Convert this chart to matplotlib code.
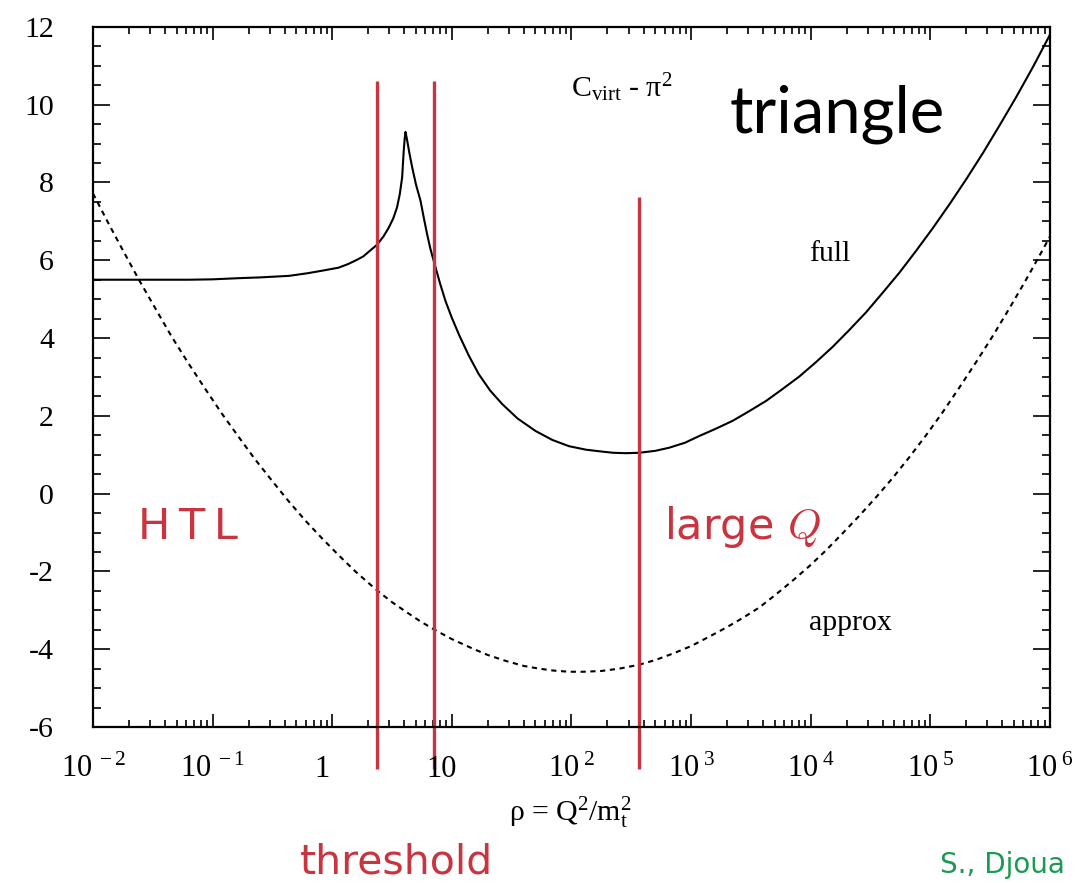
import numpy as np
import matplotlib.pyplot as plt
import matplotlib.transforms as mtransforms
from matplotlib.ticker import LogLocator, MultipleLocator, NullFormatter

plt.rcParams['font.family'] = 'Liberation Serif'
plt.rcParams['mathtext.fontset'] = 'custom'
plt.rcParams['mathtext.rm'] = 'Liberation Serif'
plt.rcParams['mathtext.it'] = 'Liberation Serif:italic'
plt.rcParams['axes.unicode_minus'] = False

RED = '#c8343f'
GREEN = '#1a9a55'

# full C_virt - pi^2 for the triangle diagram
rho_full = [0.01, 0.0316, 0.0631, 0.1, 0.166, 0.251, 0.437, 0.631, 0.851, 1.13,
            1.35, 1.58, 1.82, 2.02, 2.37, 2.69, 2.97, 3.24, 3.48, 3.67,
            3.84, 3.96, 4.04, 4.10, 4.22, 4.42, 4.66, 5.01, 5.47, 5.82,
            6.21, 6.61, 7.06, 7.94, 8.85, 10, 11.5, 13.8, 16.8, 20.9,
            26.4, 35.5, 50.1, 69.2, 95.3, 132, 181, 224, 284, 367,
            501, 655, 891, 1167, 1585, 2218, 3020, 4217, 5754, 8017,
            10960, 15210, 20890, 28970, 39810, 55080, 75860, 104500, 144500, 199100,
            275400, 377600, 524800, 717800, 1e6]
c_full = [5.50, 5.50, 5.50, 5.51, 5.54, 5.56, 5.60, 5.67, 5.74, 5.81,
          5.90, 6.00, 6.10, 6.22, 6.40, 6.62, 6.84, 7.08, 7.36, 7.70,
          8.13, 8.82, 9.15, 9.30, 9.10, 8.75, 8.39, 7.95, 7.53, 7.10,
          6.67, 6.30, 5.98, 5.42, 4.95, 4.52, 4.08, 3.56, 3.07, 2.65,
          2.30, 1.93, 1.61, 1.38, 1.22, 1.13, 1.08, 1.05, 1.04, 1.05,
          1.10, 1.18, 1.31, 1.48, 1.66, 1.87, 2.11, 2.38, 2.68, 3.01,
          3.37, 3.77, 4.20, 4.66, 5.16, 5.68, 6.24, 6.82, 7.44, 8.08,
          8.76, 9.46, 10.21, 10.96, 11.80]

# heavy-top approximation
rho_approx = [0.01, 0.0132, 0.0174, 0.0240, 0.0331, 0.0456, 0.0631, 0.0869, 0.120, 0.165,
              0.224, 0.316, 0.433, 0.603, 0.822, 1.12, 1.56, 2.37, 3.16, 4.10,
              5.37, 7.06, 10, 14.8, 20, 28.1, 39.8, 53.5, 70.8, 95.3,
              126, 178, 251, 367, 501, 708, 1000, 1413, 1950, 2692,
              3707, 5129, 7047, 9772, 13400, 18620, 25470, 35480, 48310, 66070,
              92040, 125900, 175000, 239900, 331900, 457100, 631000, 794300, 1e6]
c_approx = [7.72, 7.00, 6.31, 5.52, 4.77, 4.03, 3.34, 2.69, 2.05, 1.46,
            0.90, 0.32, -0.20, -0.71, -1.15, -1.57, -2.00, -2.49, -2.79, -3.03,
            -3.27, -3.49, -3.74, -3.98, -4.15, -4.30, -4.43, -4.50, -4.55, -4.58,
            -4.58, -4.56, -4.50, -4.40, -4.28, -4.11, -3.92, -3.68, -3.45, -3.20,
            -2.93, -2.59, -2.24, -1.86, -1.46, -1.01, -0.57, -0.08, 0.40, 0.92,
            1.50, 2.08, 2.73, 3.37, 4.05, 4.76, 5.50, 6.05, 6.61]

# region boundaries
bound_rho = [2.37, 7.07, 367]
bound_top = [10.62, 10.62, 7.63]
bound_bottom = -7.09

xtick_vals = [1e-2, 1e-1, 1, 10, 1e2, 1e3, 1e4, 1e5, 1e6]
xtick_text = [r'$10^{\;-2}$', r'$10^{\;-1}$', '1', '10', r'$10^{\;2}$',
              r'$10^{\;3}$', r'$10^{\;4}$', r'$10^{\;5}$', r'$10^{\;6}$']

fig = plt.figure(figsize=(10.8, 8.83), dpi=100)
ax = fig.add_axes([0.0861, 0.1767, 0.8861, 0.7928])

ax.plot(rho_full, c_full, color='black', lw=1.5)
ax.plot(rho_approx, c_approx, color='black', lw=1.5, dashes=(2.5, 2.2))

ax.set_xscale('log')
ax.set_xlim(1e-2, 1e6)
ax.set_ylim(-6, 12)

ax.xaxis.set_major_locator(LogLocator(base=10, numticks=20))
ax.xaxis.set_minor_locator(LogLocator(base=10, subs=np.arange(2, 10), numticks=200))
ax.xaxis.set_major_formatter(NullFormatter())
ax.xaxis.set_minor_formatter(NullFormatter())
ax.yaxis.set_major_locator(MultipleLocator(2))
ax.yaxis.set_minor_locator(MultipleLocator(0.5))

for s in ax.spines.values():
    s.set_linewidth(1.6)
ax.tick_params(which='both', direction='in', top=True, right=True, width=1.2)
ax.tick_params(axis='y', which='major', length=12, pad=28, labelsize=21.5)
ax.tick_params(axis='y', which='minor', length=5.5)
ax.tick_params(axis='x', which='major', length=9.5)
ax.tick_params(axis='x', which='minor', length=5)

# x tick labels, placed on a common baseline
xtrans = ax.get_xaxis_transform()
for v, t in zip(xtick_vals, xtick_text):
    tr = xtrans
    if not t.startswith('$'):
        tr = mtransforms.offset_copy(xtrans, fig=fig, x=-10, y=0, units='dots')
    ax.text(v, -0.0714, t, transform=tr, ha='center', va='baseline',
            fontsize=22, clip_on=False)

ax.vlines(bound_rho, bound_bottom, bound_top, colors=RED, lw=2.4, clip_on=False)

ax.text(99, 10.19, r'C$_{\mathrm{virt}}$ - π$^2$', fontsize=21.5, va='baseline')
ax.text(2080, 9.29, 'triangle', family='Lato', fontsize=47, va='baseline')
ax.text(9730, 5.98, 'full', fontsize=21.5, va='baseline')
ax.text(9730, -3.51, 'approx', fontsize=21.5, va='baseline')
ax.text(0.024, -1.17, 'H\u2009T\u2009L', family='DejaVu Sans', color=RED,
        fontsize=31, va='baseline')
ax.text(594, -1.17, r'large $Q$', family='DejaVu Sans', color=RED, fontsize=31,
        va='baseline', math_fontfamily='cm')

fig.text(0.528, 0.070, r'ρ = Q$^2$/$\mathrm{m}_\mathrm{t}^2$', ha='center',
         va='baseline', fontsize=21.5)
fig.text(0.278, 0.011, 'threshold', family='DejaVu Sans', color=RED,
         fontsize=29.5, va='baseline')
fig.text(0.870, 0.011, 'S., Djoua', family='DejaVu Sans', color=GREEN,
         fontsize=20, va='baseline')

fig.savefig('out.png', dpi=100)
